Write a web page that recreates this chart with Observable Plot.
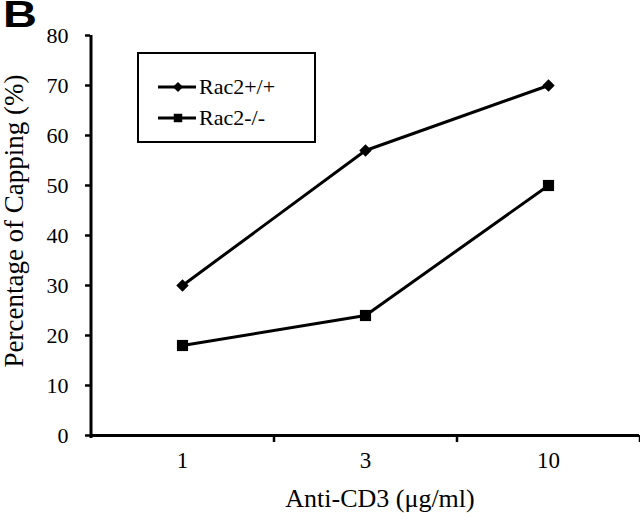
<!DOCTYPE html>
<html>
<head>
<meta charset="utf-8">
<script src="https://cdn.jsdelivr.net/npm/d3@7"></script>
<script src="https://cdn.jsdelivr.net/npm/@observablehq/plot@0.6"></script>
<style>
  body { margin: 0; background: #fff; }
  #chart svg { display: block; }
  g[aria-label="y-axis tick"] path, g[aria-label="y-axis"] .tick line { stroke-width: 2.5px; }
  g[aria-label="x-axis tick label"], g[aria-label="x-axis"] text { font-size: 23px; }
</style>
</head>
<body>
<div id="chart"></div>
<script>
// ---- data ----
const concentrations = ["1", "3", "10"];          // Anti-CD3 (µg/ml)
const seriesNames = ["Rac2+/+", "Rac2-/-"];
const rac2WT = [30, 57, 70];                       // Rac2+/+ capping %
const rac2KO = [18, 24, 50];                       // Rac2-/- capping %
const yTicks = [0, 10, 20, 30, 40, 50, 60, 70, 80];

const rows = [
  ...concentrations.map((c, i) => ({conc: c, value: rac2WT[i], series: seriesNames[0]})),
  ...concentrations.map((c, i) => ({conc: c, value: rac2KO[i], series: seriesNames[1]}))
];

const W = 640, H = 522;
const mL = 90, mR = 1, mT = 35, mB = 87;
const step = (W - mL - mR) / concentrations.length;

const plot = Plot.plot({
  width: W,
  height: H,
  marginLeft: mL,
  marginRight: mR,
  marginTop: mT,
  marginBottom: mB,
  style: {fontFamily: "'Liberation Serif', 'Times New Roman', serif", fontSize: "22px", color: "black", background: "white"},
  x: {type: "point", domain: concentrations, padding: 0.5, tickSize: 0, tickPadding: 16, label: null},
  y: {domain: [0, 80], ticks: yTicks, tickSize: 5, tickPadding: 17, label: null},
  marks: [
    // axis lines
    Plot.ruleY([0], {strokeWidth: 3, stroke: "black"}),
    Plot.ruleX([concentrations[0]], {y1: 80, y2: 0, dx: -step / 2, strokeWidth: 3, stroke: "black", insetBottom: -3}),
    // x ticks at category boundaries
    Plot.ruleX(concentrations, {x: d => d, y1: 0, y2: 0, dx: step / 2, insetBottom: -7, strokeWidth: 2.5, stroke: "black"}),
    // series
    Plot.line(rows, {x: "conc", y: "value", z: "series", stroke: "black", strokeWidth: 3}),
    Plot.dot(rows.filter(d => d.series === seriesNames[0]), {x: "conc", y: "value", symbol: "diamond2", r: 5.6, fill: "black", stroke: "none"}),
    Plot.dot(rows.filter(d => d.series === seriesNames[1]), {x: "conc", y: "value", symbol: "square", r: 6.3, fill: "black", stroke: "none"})
  ]
});

document.getElementById("chart").appendChild(plot);

// ---- annotations: panel letter, axis titles, legend ----
const svg = d3.select(plot);
const serif = "'Liberation Serif', 'Times New Roman', serif";

svg.append("text")
  .attr("x", 3).attr("y", 27)
  .attr("text-anchor", "start")
  .attr("font-family", "'Liberation Sans', Arial, sans-serif")
  .attr("font-weight", "bold").attr("font-size", 37)
  .attr("textLength", 34).attr("lengthAdjust", "spacingAndGlyphs")
  .attr("fill", "black")
  .text("B");

svg.append("text")
  .attr("transform", "translate(23,221) rotate(-90)")
  .attr("text-anchor", "middle")
  .attr("font-family", serif).attr("font-size", 27)
  .attr("fill", "black")
  .text("Percentage of Capping (%)");

svg.append("text")
  .attr("x", 380).attr("y", 507)
  .attr("text-anchor", "middle")
  .attr("font-family", serif).attr("font-size", 26)
  .attr("fill", "black")
  .text("Anti-CD3 (\u03BCg/ml)");

const lg = svg.append("g");
lg.append("rect")
  .attr("x", 138).attr("y", 53).attr("width", 177).attr("height", 89)
  .attr("fill", "white").attr("stroke", "black").attr("stroke-width", 2);

const legendRows = [
  {name: seriesNames[0], y: 87, sym: d3.symbolDiamond2, size: 65},
  {name: seriesNames[1], y: 118, sym: d3.symbolSquare, size: 72}
];
legendRows.forEach(r => {
  lg.append("line")
    .attr("x1", 158).attr("x2", 196).attr("y1", r.y).attr("y2", r.y)
    .attr("stroke", "black").attr("stroke-width", 3);
  lg.append("path")
    .attr("transform", `translate(178,${r.y})`)
    .attr("d", d3.symbol(r.sym, r.size)())
    .attr("fill", "black");
  lg.append("text")
    .attr("x", 199).attr("y", r.y + 7)
    .attr("text-anchor", "start")
    .attr("font-family", serif).attr("font-size", 22)
    .attr("fill", "black")
    .text(r.name);
});
</script>
</body>
</html>
